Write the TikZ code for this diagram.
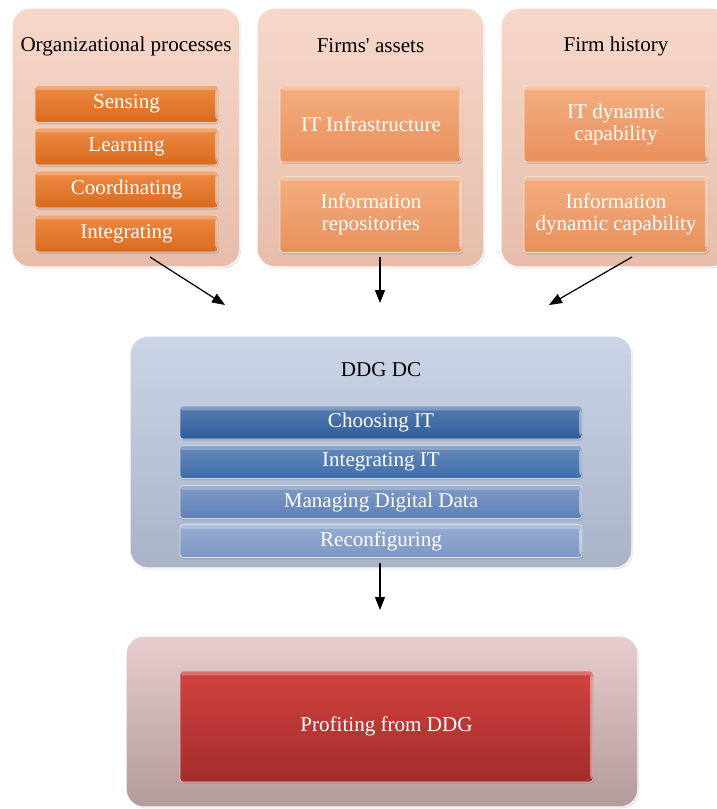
\documentclass[tikz,border=0pt]{standalone}
\usepackage{fontspec}
\setmainfont[Ligatures=TeXOff]{Liberation Serif}
\usepackage{tikz}
\usetikzlibrary{positioning,arrows.meta,shadows}
\definecolor{peachtop}{HTML}{F6D8CA}
\definecolor{peachbot}{HTML}{E6BDAB}
\definecolor{orangetop}{HTML}{EE8B45}
\definecolor{orangebot}{HTML}{D96A1E}
\definecolor{apricottop}{HTML}{F4AE80}
\definecolor{apricotbot}{HTML}{E8905C}
\definecolor{slatetop}{HTML}{CBD5E7}
\definecolor{slatebot}{HTML}{A9B3C8}
\definecolor{rosetop}{HTML}{E8CCCE}
\definecolor{rosebot}{HTML}{B39A9B}
\definecolor{redtop}{HTML}{D0423F}
\definecolor{redbot}{HTML}{A32D2B}

\begin{document}
\begin{tikzpicture}[x=0.02cm, y=-0.02cm, font=\fontsize{12}{12.5}\selectfont,
  groupbox/.style={rounded corners=0.36cm, draw=white, line width=0.6pt, drop shadow={opacity=0.25, shadow xshift=0.6pt, shadow yshift=-0.8pt}},
  bevel/.style={rounded corners=1.8pt, text=white, align=center, inner sep=1pt, draw=white!70!#1, line width=0.4pt, drop shadow={opacity=0.3, shadow xshift=0.5pt, shadow yshift=-1pt},
    path picture={\fill[white, opacity=0.25] (path picture bounding box.north west) rectangle ([yshift=-2.5pt]path picture bounding box.north east);
                  \fill[white, opacity=0.45] ([xshift=-1.6pt,yshift=-2pt]path picture bounding box.north east) rectangle ([yshift=2pt]path picture bounding box.south east);}},
  arr/.style={-{Triangle[length=2.6mm, width=2mm]}, line width=0.7pt}]
\clip (0,0) rectangle (717,809);
% upper groups
\node[groupbox, top color=peachtop, bottom color=peachbot, minimum width=4.56cm, minimum height=5.18cm] (procbox) at (126,137.5) {};
\node[groupbox, top color=peachtop, bottom color=peachbot, minimum width=4.54cm, minimum height=5.18cm] (assetbox) at (370.5,137.5) {};
\node[groupbox, top color=peachtop, bottom color=peachbot, minimum width=4.56cm, minimum height=5.18cm] (histbox) at (615,137.5) {};
\node (proctitle) at (126,46) {Organizational processes};
\node (assettitle) at (370.5,46) {Firms' assets};
\node (histtitle) at (616,46) {Firm history};
\foreach \n/\t/\y in {sense/Sensing/104, learn/Learning/146.5, coord/Coordinating/189.5, integ/Integrating/233.5}
  {\node[bevel=orangebot, top color=orangetop, bottom color=orangebot, minimum width=3.66cm, minimum height=0.74cm] (\n) at (126.5,\y) {\t};}
\node[bevel=apricotbot, top color=apricottop, bottom color=apricotbot, minimum width=3.64cm, minimum height=1.52cm] (itinfra) at (371,124) {IT Infrastructure};
\node[bevel=apricotbot, top color=apricottop, bottom color=apricotbot, minimum width=3.64cm, minimum height=1.52cm] (inforep) at (371,214.5) {Information\\repositories};
\node[bevel=apricotbot, top color=apricottop, bottom color=apricotbot, minimum width=3.68cm, minimum height=1.52cm] (itdyn) at (616,124) {IT dynamic\\capability};
\node[bevel=apricotbot, top color=apricottop, bottom color=apricotbot, minimum width=3.68cm, minimum height=1.52cm] (infodyn) at (616,214.5) {Information\\dynamic capability};
% DDG DC
\node[groupbox, top color=slatetop, bottom color=slatebot, minimum width=10.04cm, minimum height=4.64cm] (ddgbox) at (381,452) {};
\node (ddgtitle) at (381,370) {DDG DC};
\foreach \n/\t/\y/\c in {choose/Choosing IT/422.5/2E5C9C, integit/Integrating IT/462/3F6DAB, manage/Managing Digital Data/502/5F80B6, reconf/Reconfiguring/541/7C97C6}
  {\definecolor{barcol}{HTML}{\c}
   \node[bevel=barcol, top color=barcol!80!white, bottom color=barcol, minimum width=8.04cm, minimum height=0.66cm] (\n) at (381,\y) {\t};}
% outcome
\node[groupbox, top color=rosetop, bottom color=rosebot, minimum width=10.24cm, minimum height=3.42cm] (profitbox) at (382,721.5) {};
\node[bevel=redbot, top color=redtop, bottom color=redbot, minimum width=8.26cm, minimum height=2.22cm] (profit) at (386.5,726.5) {Profiting from DDG};
% arrows
\coordinate (procout) at (150,257);
\coordinate (assetout) at (380,257);
\coordinate (histout) at (632,257);
\coordinate (ddgin1) at (225,305);
\coordinate (ddgin2) at (380,303);
\coordinate (ddgin3) at (549,305);
\coordinate (ddgout) at (380,563);
\coordinate (profitin) at (380,610);
\draw[arr] (procout) -- (ddgin1);
\draw[arr] (assetout) -- (ddgin2);
\draw[arr] (histout) -- (ddgin3);
\draw[arr] (ddgout) -- (profitin);
\end{tikzpicture}
\end{document}
